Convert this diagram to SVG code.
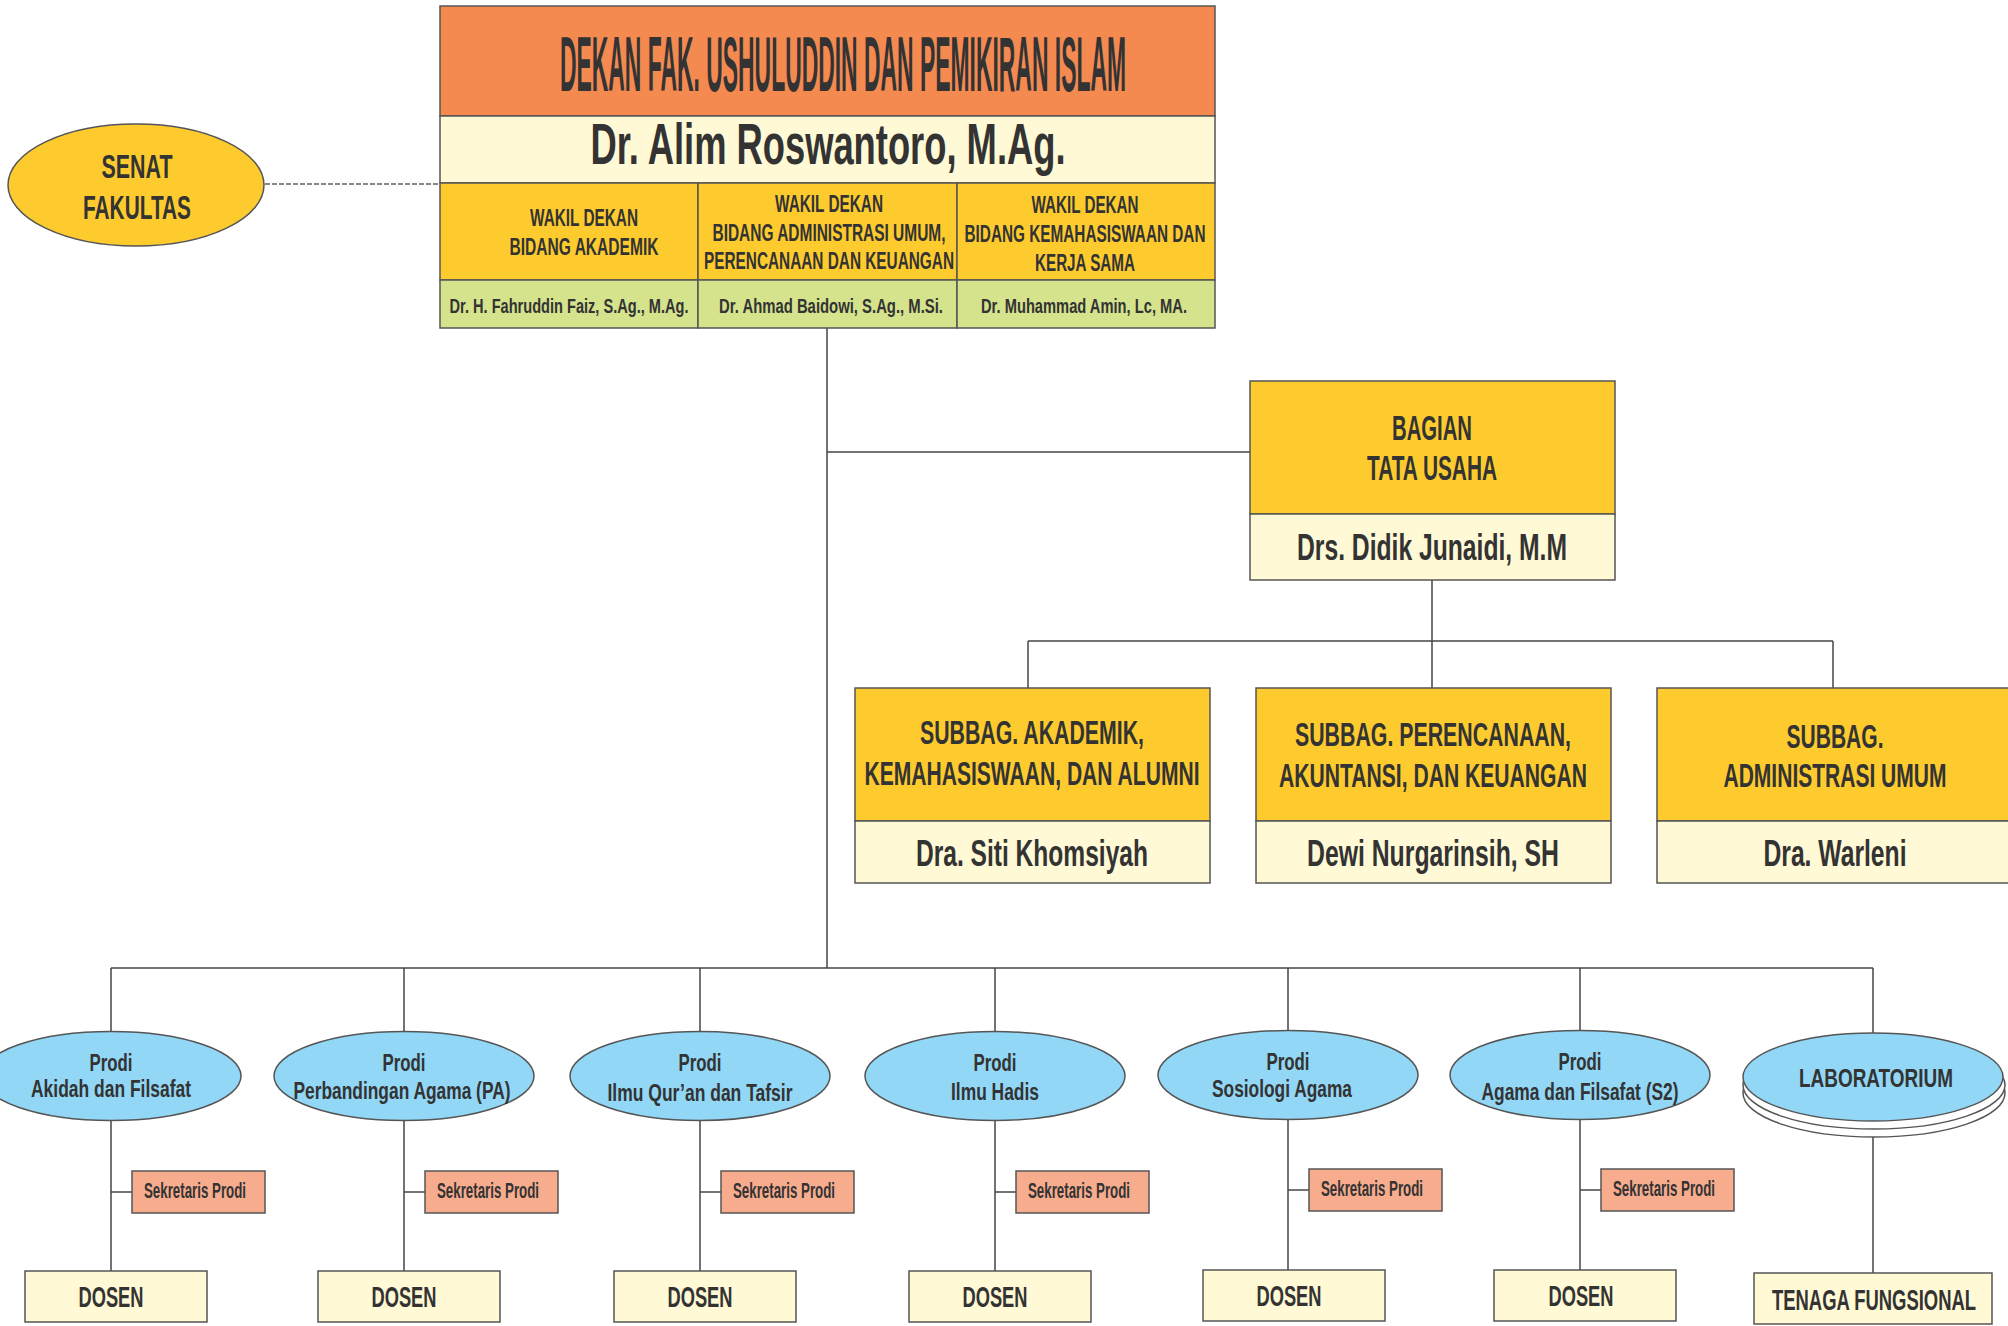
<svg xmlns="http://www.w3.org/2000/svg" width="2008" height="1326" viewBox="0 0 2008 1326">
<style>
text{font-family:"Liberation Sans",Arial,sans-serif;font-weight:bold;fill:#333333;text-anchor:middle}
.bx{stroke:#555555;stroke-width:1.5}
.or{fill:#F58A51}
.cr{fill:#FFF9D5}
.ye{fill:#FECB2F}
.gr{fill:#D4E38C}
.bl{fill:#92D7F6;stroke:#555555;stroke-width:1.5}
.sk{fill:#F8AC8E;stroke:#555555;stroke-width:1.5}
.ln{stroke:#444444;stroke-width:1.5;fill:none}
.w{font-size:24px}
.sp{font-size:22px}
.ds{font-size:30px}
.pr{font-size:23px}
</style>
<rect width="2008" height="1326" fill="#ffffff"/>
<g id="connectors">
<line x1="265" y1="184" x2="440" y2="184" stroke="#888888" stroke-width="2" stroke-dasharray="5,2"/>
<line class="ln" x1="827" y1="328" x2="827" y2="968"/>
<line class="ln" x1="827" y1="452" x2="1250" y2="452"/>
<line class="ln" x1="1432" y1="580" x2="1432" y2="688"/>
<line class="ln" x1="1028" y1="641" x2="1833" y2="641"/>
<line class="ln" x1="1028" y1="641" x2="1028" y2="688"/>
<line class="ln" x1="1833" y1="641" x2="1833" y2="688"/>
<line class="ln" x1="111" y1="968" x2="1873" y2="968"/>
<line class="ln" x1="111" y1="968" x2="111" y2="1271"/>
<line class="ln" x1="404" y1="968" x2="404" y2="1271"/>
<line class="ln" x1="700" y1="968" x2="700" y2="1271"/>
<line class="ln" x1="995" y1="968" x2="995" y2="1271"/>
<line class="ln" x1="1288" y1="968" x2="1288" y2="1270"/>
<line class="ln" x1="1580" y1="968" x2="1580" y2="1270"/>
<line class="ln" x1="1873" y1="968" x2="1873" y2="1273"/>
<line class="ln" x1="111" y1="1192" x2="132" y2="1192"/>
<line class="ln" x1="404" y1="1192" x2="425" y2="1192"/>
<line class="ln" x1="700" y1="1192" x2="721" y2="1192"/>
<line class="ln" x1="995" y1="1192" x2="1016" y2="1192"/>
<line class="ln" x1="1288" y1="1190" x2="1309" y2="1190"/>
<line class="ln" x1="1580" y1="1190" x2="1601" y2="1190"/>
</g>
<g id="senat">
<ellipse cx="136" cy="185" rx="128" ry="61" fill="#FECB2F" stroke="#555555" stroke-width="1.5"/>
<text x="137" y="178" font-size="34" textLength="71" lengthAdjust="spacingAndGlyphs">SENAT</text>
<text x="137" y="219" font-size="34" textLength="108" lengthAdjust="spacingAndGlyphs">FAKULTAS</text>
</g>
<g id="dekan">
<rect class="bx or" x="440" y="6" width="775" height="110"/>
<rect class="bx cr" x="440" y="116" width="775" height="67"/>
<rect class="bx ye" x="440" y="183" width="258" height="97"/>
<rect class="bx ye" x="698" y="183" width="259" height="97"/>
<rect class="bx ye" x="957" y="183" width="258" height="97"/>
<rect class="bx gr" x="440" y="280" width="258" height="48"/>
<rect class="bx gr" x="698" y="280" width="259" height="48"/>
<rect class="bx gr" x="957" y="280" width="258" height="48"/>
<text x="843" y="91" font-size="78" textLength="566" lengthAdjust="spacingAndGlyphs">DEKAN FAK. USHULUDDIN DAN PEMIKIRAN ISLAM</text>
<text x="828" y="164" font-size="57" textLength="475" lengthAdjust="spacingAndGlyphs">Dr. Alim Roswantoro, M.Ag.</text>
<text class="w" x="584" y="226" textLength="108" lengthAdjust="spacingAndGlyphs">WAKIL DEKAN</text>
<text class="w" x="584" y="255" textLength="149" lengthAdjust="spacingAndGlyphs">BIDANG AKADEMIK</text>
<text class="w" x="829" y="212" textLength="108" lengthAdjust="spacingAndGlyphs">WAKIL DEKAN</text>
<text class="w" x="829" y="241" textLength="233" lengthAdjust="spacingAndGlyphs">BIDANG ADMINISTRASI UMUM,</text>
<text class="w" x="829" y="269" textLength="250" lengthAdjust="spacingAndGlyphs">PERENCANAAN DAN KEUANGAN</text>
<text class="w" x="1085" y="213" textLength="107" lengthAdjust="spacingAndGlyphs">WAKIL DEKAN</text>
<text class="w" x="1085" y="242" textLength="241" lengthAdjust="spacingAndGlyphs">BIDANG KEMAHASISWAAN DAN</text>
<text class="w" x="1085" y="271" textLength="100" lengthAdjust="spacingAndGlyphs">KERJA SAMA</text>
<text x="569" y="313" font-size="21" textLength="239" lengthAdjust="spacingAndGlyphs">Dr. H. Fahruddin Faiz, S.Ag., M.Ag.</text>
<text x="831" y="313" font-size="21" textLength="224" lengthAdjust="spacingAndGlyphs">Dr. Ahmad Baidowi, S.Ag., M.Si.</text>
<text x="1084" y="313" font-size="21" textLength="206" lengthAdjust="spacingAndGlyphs">Dr. Muhammad Amin, Lc, MA.</text>
</g>
<g id="tata-usaha">
<rect class="bx ye" x="1250" y="381" width="365" height="133"/>
<rect class="bx cr" x="1250" y="514" width="365" height="66"/>
<text x="1432" y="440" font-size="35" textLength="80" lengthAdjust="spacingAndGlyphs">BAGIAN</text>
<text x="1432" y="480" font-size="35" textLength="130" lengthAdjust="spacingAndGlyphs">TATA USAHA</text>
<text x="1432" y="560" font-size="37" textLength="270" lengthAdjust="spacingAndGlyphs">Drs. Didik Junaidi, M.M</text>
</g>
<g id="subbag-akademik">
<rect class="bx ye" x="855" y="688" width="355" height="133"/>
<rect class="bx cr" x="855" y="821" width="355" height="62"/>
<text x="1032" y="744" font-size="34" textLength="224" lengthAdjust="spacingAndGlyphs">SUBBAG. AKADEMIK,</text>
<text x="1032" y="785" font-size="34" textLength="335" lengthAdjust="spacingAndGlyphs">KEMAHASISWAAN, DAN ALUMNI</text>
<text x="1032" y="866" font-size="36" textLength="232" lengthAdjust="spacingAndGlyphs">Dra. Siti Khomsiyah</text>
</g>
<g id="subbag-perencanaan">
<rect class="bx ye" x="1256" y="688" width="355" height="133"/>
<rect class="bx cr" x="1256" y="821" width="355" height="62"/>
<text x="1433" y="746" font-size="34" textLength="276" lengthAdjust="spacingAndGlyphs">SUBBAG. PERENCANAAN,</text>
<text x="1433" y="787" font-size="34" textLength="308" lengthAdjust="spacingAndGlyphs">AKUNTANSI, DAN KEUANGAN</text>
<text x="1433" y="866" font-size="36" textLength="252" lengthAdjust="spacingAndGlyphs">Dewi Nurgarinsih, SH</text>
</g>
<g id="subbag-administrasi">
<rect class="bx ye" x="1657" y="688" width="360" height="133"/>
<rect class="bx cr" x="1657" y="821" width="360" height="62"/>
<text x="1835" y="748" font-size="34" textLength="97" lengthAdjust="spacingAndGlyphs">SUBBAG.</text>
<text x="1835" y="787" font-size="34" textLength="223" lengthAdjust="spacingAndGlyphs">ADMINISTRASI UMUM</text>
<text x="1835" y="866" font-size="36" textLength="143" lengthAdjust="spacingAndGlyphs">Dra. Warleni</text>
</g>
<g id="prodi-akidah">
<ellipse class="bl" cx="111" cy="1076" rx="130" ry="44.5"/>
<text class="pr" x="111" y="1071" textLength="43" lengthAdjust="spacingAndGlyphs">Prodi</text>
<text class="pr" x="111" y="1097" textLength="160" lengthAdjust="spacingAndGlyphs">Akidah dan Filsafat</text>
<rect class="sk" x="132" y="1171" width="133" height="42"/>
<text class="sp" x="195" y="1198" textLength="102" lengthAdjust="spacingAndGlyphs">Sekretaris Prodi</text>
<rect class="bx cr" x="25" y="1271" width="182" height="51"/>
<text class="ds" x="111" y="1307" textLength="65" lengthAdjust="spacingAndGlyphs">DOSEN</text>
</g>
<g id="prodi-pa">
<ellipse class="bl" cx="404" cy="1076" rx="130" ry="44.5"/>
<text class="pr" x="404" y="1071" textLength="43" lengthAdjust="spacingAndGlyphs">Prodi</text>
<text class="pr" x="402" y="1099" textLength="217" lengthAdjust="spacingAndGlyphs">Perbandingan Agama (PA)</text>
<rect class="sk" x="425" y="1171" width="133" height="42"/>
<text class="sp" x="488" y="1198" textLength="102" lengthAdjust="spacingAndGlyphs">Sekretaris Prodi</text>
<rect class="bx cr" x="318" y="1271" width="182" height="51"/>
<text class="ds" x="404" y="1307" textLength="65" lengthAdjust="spacingAndGlyphs">DOSEN</text>
</g>
<g id="prodi-iqt">
<ellipse class="bl" cx="700" cy="1076" rx="130" ry="44.5"/>
<text class="pr" x="700" y="1071" textLength="43" lengthAdjust="spacingAndGlyphs">Prodi</text>
<text class="pr" x="700" y="1101" textLength="185" lengthAdjust="spacingAndGlyphs">Ilmu Qur’an dan Tafsir</text>
<rect class="sk" x="721" y="1171" width="133" height="42"/>
<text class="sp" x="784" y="1198" textLength="102" lengthAdjust="spacingAndGlyphs">Sekretaris Prodi</text>
<rect class="bx cr" x="614" y="1271" width="182" height="51"/>
<text class="ds" x="700" y="1307" textLength="65" lengthAdjust="spacingAndGlyphs">DOSEN</text>
</g>
<g id="prodi-hadis">
<ellipse class="bl" cx="995" cy="1076" rx="130" ry="44.5"/>
<text class="pr" x="995" y="1071" textLength="43" lengthAdjust="spacingAndGlyphs">Prodi</text>
<text class="pr" x="995" y="1100" textLength="88" lengthAdjust="spacingAndGlyphs">Ilmu Hadis</text>
<rect class="sk" x="1016" y="1171" width="133" height="42"/>
<text class="sp" x="1079" y="1198" textLength="102" lengthAdjust="spacingAndGlyphs">Sekretaris Prodi</text>
<rect class="bx cr" x="909" y="1271" width="182" height="51"/>
<text class="ds" x="995" y="1307" textLength="65" lengthAdjust="spacingAndGlyphs">DOSEN</text>
</g>
<g id="prodi-sosiologi">
<ellipse class="bl" cx="1288" cy="1075" rx="130" ry="44.5"/>
<text class="pr" x="1288" y="1070" textLength="43" lengthAdjust="spacingAndGlyphs">Prodi</text>
<text class="pr" x="1282" y="1097" textLength="140" lengthAdjust="spacingAndGlyphs">Sosiologi Agama</text>
<rect class="sk" x="1309" y="1169" width="133" height="42"/>
<text class="sp" x="1372" y="1196" textLength="102" lengthAdjust="spacingAndGlyphs">Sekretaris Prodi</text>
<rect class="bx cr" x="1203" y="1270" width="182" height="51"/>
<text class="ds" x="1289" y="1306" textLength="65" lengthAdjust="spacingAndGlyphs">DOSEN</text>
</g>
<g id="prodi-s2">
<ellipse class="bl" cx="1580" cy="1075" rx="130" ry="44.5"/>
<text class="pr" x="1580" y="1070" textLength="43" lengthAdjust="spacingAndGlyphs">Prodi</text>
<text class="pr" x="1580" y="1100" textLength="197" lengthAdjust="spacingAndGlyphs">Agama dan Filsafat (S2)</text>
<rect class="sk" x="1601" y="1169" width="133" height="42"/>
<text class="sp" x="1664" y="1196" textLength="102" lengthAdjust="spacingAndGlyphs">Sekretaris Prodi</text>
<rect class="bx cr" x="1494" y="1270" width="182" height="51"/>
<text class="ds" x="1581" y="1306" textLength="65" lengthAdjust="spacingAndGlyphs">DOSEN</text>
</g>
<g id="laboratorium">
<ellipse cx="1874" cy="1093" rx="131" ry="44" fill="#ffffff" stroke="#555555" stroke-width="1.5"/>
<ellipse cx="1874" cy="1085" rx="131" ry="44" fill="#ffffff" stroke="#555555" stroke-width="1.5"/>
<ellipse class="bl" cx="1873" cy="1077" rx="130" ry="44"/>
<text x="1876" y="1087" font-size="26" textLength="154" lengthAdjust="spacingAndGlyphs">LABORATORIUM</text>
<rect class="bx cr" x="1754" y="1273" width="238" height="51"/>
<text x="1874" y="1310" font-size="30" textLength="204" lengthAdjust="spacingAndGlyphs">TENAGA FUNGSIONAL</text>
</g>
</svg>
